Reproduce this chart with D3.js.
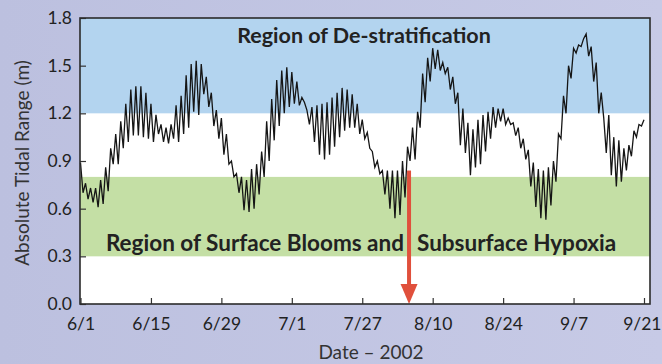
<!DOCTYPE html>
<html>
<head>
<meta charset="utf-8">
<script src="https://cdn.jsdelivr.net/npm/d3@7"></script>
<style>
  html, body { margin: 0; padding: 0; background: #c0c4e2; }
  svg { display: block; font-family: Lato, "Open Sans", sans-serif; }
</style>
</head>
<body>
<svg id="chart" width="662" height="364"></svg>
<script>
// half-day tidal range readings, 6/1 .. 9/21 2002
const startDate = new Date(2002, 5, 1);
const tidalRange = [
  0.89, 0.70, 0.76, 0.66, 0.73, 0.64, 0.73, 0.61, 0.78, 0.63,
  0.86, 0.71, 0.98, 0.88, 1.07, 0.88, 1.15, 0.98, 1.26, 1.02,
  1.35, 1.06, 1.37, 1.06, 1.37, 1.05, 1.33, 1.04, 1.26, 1.02,
  1.19, 1.07, 1.13, 1.02, 1.11, 1.01, 1.13, 1.04, 1.25, 1.02,
  1.31, 1.07, 1.44, 1.11, 1.51, 1.21, 1.53, 1.19, 1.51, 1.32,
  1.43, 1.24, 1.33, 1.12, 1.22, 1.04, 1.17, 0.94, 1.07, 0.88,
  0.90, 0.80, 0.82, 0.70, 0.80, 0.59, 0.78, 0.58, 0.85, 0.60,
  0.88, 0.69, 0.96, 0.80, 1.15, 0.90, 1.29, 1.03, 1.41, 1.12,
  1.47, 1.20, 1.49, 1.24, 1.46, 1.26, 1.40, 1.25, 1.30, 1.27,
  1.22, 1.13, 1.24, 1.02, 1.25, 0.94, 1.26, 0.91, 1.27, 0.94,
  1.30, 0.99, 1.33, 1.05, 1.36, 1.09, 1.35, 1.11, 1.32, 1.11,
  1.26, 1.07, 1.16, 1.04, 1.08, 0.98, 0.96, 0.86, 0.90, 0.82,
  0.84, 0.69, 0.84, 0.60, 0.84, 0.54, 0.84, 0.56, 0.90, 0.67,
  0.99, 0.90, 1.11, 0.91, 1.21, 1.11, 1.45, 1.27, 1.55, 1.40,
  1.61, 1.48, 1.60, 1.47, 1.52, 1.45, 1.49, 1.35, 1.43, 1.26,
  1.33, 1.00, 1.23, 0.95, 1.14, 0.81, 1.10, 0.86, 1.16, 0.88,
  1.19, 0.96, 1.21, 1.04, 1.24, 1.11, 1.23, 1.15, 1.23, 1.13,
  1.17, 1.13, 1.14, 1.06, 1.11, 0.98, 1.04, 0.91, 0.97, 0.74,
  0.89, 0.61, 0.85, 0.54, 0.84, 0.53, 0.86, 0.62, 0.90, 0.77,
  1.07, 1.04, 1.31, 1.20, 1.50, 1.42, 1.61, 1.58, 1.63, 1.62,
  1.67, 1.70, 1.56, 1.62, 1.40, 1.52, 1.20, 1.33, 1.17, 0.95,
  1.19, 0.81, 1.05, 0.74, 1.03, 0.77, 0.98, 0.84, 1.00, 0.93,
  1.09, 1.05, 1.13, 1.12, 1.16
];
const tickLabels = ["6/1", "6/15", "6/29", "7/1", "7/27", "8/10", "8/24", "9/7", "9/21"];
const yTicks = [0, 0.3, 0.6, 0.9, 1.2, 1.5, 1.8];
const destratBand = [1.2, 1.8];
const bloomBand = [0.3, 0.8];
const arrowDay = 65.3;
const arrowTop = 0.84;

const svg = d3.select("#chart");
const pLeft = 80, pRight = 650, pTop = 18, pBottom = 304;

const endDate = d3.timeDay.offset(startDate, 112);
const x = d3.scaleTime().domain([startDate, endDate]).range([80.5, 644]);
const y = d3.scaleLinear().domain([0, 1.8]).range([pBottom, pTop]);
const dateAt = i => new Date(startDate.getTime() + i * 12 * 3600 * 1000);

// background
const defs = svg.append("defs");
const grad = defs.append("linearGradient").attr("id", "bg").attr("x1", 0).attr("x2", 1);
grad.append("stop").attr("offset", "0%").attr("stop-color", "#bcc0df");
grad.append("stop").attr("offset", "100%").attr("stop-color", "#c7cae6");
svg.append("rect").attr("width", 662).attr("height", 364).attr("fill", "url(#bg)");

// plot area + bands
svg.append("rect").attr("x", pLeft).attr("y", pTop)
  .attr("width", pRight - pLeft).attr("height", pBottom - pTop).attr("fill", "#fff");
svg.append("rect").attr("x", pLeft).attr("y", y(destratBand[1]))
  .attr("width", pRight - pLeft).attr("height", y(destratBand[0]) - y(destratBand[1]))
  .attr("fill", "#b3d4ef");
svg.append("rect").attr("x", pLeft).attr("y", y(bloomBand[1]))
  .attr("width", pRight - pLeft).attr("height", y(bloomBand[0]) - y(bloomBand[1]))
  .attr("fill", "#c4dfa5");

// region labels
svg.append("text").attr("x", 364).attr("y", 42.5)
  .attr("text-anchor", "middle").attr("font-size", 21.5).attr("font-weight", "bold")
  .attr("fill", "#222").text("Region of De-stratification");
svg.append("text").attr("x", 404).attr("y", 251)
  .attr("text-anchor", "end").attr("font-size", 22.5).attr("font-weight", "bold")
  .attr("fill", "#222").text("Region of Surface Blooms and");
svg.append("text").attr("x", 417).attr("y", 251)
  .attr("text-anchor", "start").attr("font-size", 22.5).attr("font-weight", "bold")
  .attr("fill", "#222").text("Subsurface Hypoxia");

// tidal range line
const line = d3.line().x((d, i) => x(dateAt(i))).y(d => y(d));
svg.append("path").datum(tidalRange)
  .attr("d", line).attr("fill", "none")
  .attr("stroke", "#151515").attr("stroke-width", 1.3).attr("stroke-linejoin", "miter");

// red arrow
const ax = x(new Date(startDate.getTime() + arrowDay * 24 * 3600 * 1000));
svg.append("line").attr("x1", ax).attr("x2", ax)
  .attr("y1", y(arrowTop)).attr("y2", pBottom - 18)
  .attr("stroke", "#e0503c").attr("stroke-width", 4);
svg.append("path")
  .attr("d", `M${ax - 8.5},${pBottom - 20} L${ax + 8.5},${pBottom - 20} L${ax},${pBottom} Z`)
  .attr("fill", "#e0503c");

// axes
const xAxis = d3.axisBottom(x)
  .tickValues(tickLabels.map((t, i) => d3.timeDay.offset(startDate, i * 14)))
  .tickFormat((d, i) => tickLabels[i])
  .tickSizeInner(-6).tickSizeOuter(0).tickPadding(14);
const gx = svg.append("g").attr("transform", `translate(0,${pBottom})`).call(xAxis);
gx.select(".domain").remove();
gx.selectAll("line").attr("stroke", "#333").attr("stroke-width", 1.2);
gx.selectAll("text").attr("font-size", 17.5).attr("fill", "#222").attr("font-family", "Lato, sans-serif");
// keep the last label inside the window
gx.selectAll(".tick:last-of-type text").attr("text-anchor", "end").attr("dx", 17);

const yAxis = d3.axisLeft(y).tickValues(yTicks).tickFormat(d3.format(".1f"))
  .tickSizeInner(-6).tickSizeOuter(0).tickPadding(8);
const gy = svg.append("g").attr("transform", `translate(${pLeft},0)`).call(yAxis);
gy.select(".domain").remove();
gy.selectAll("line").attr("stroke", "#333").attr("stroke-width", 1.2);
gy.selectAll("text").attr("font-size", 17.5).attr("fill", "#222").attr("font-family", "Lato, sans-serif");

// frame
svg.append("rect").attr("x", pLeft).attr("y", pTop)
  .attr("width", pRight - pLeft).attr("height", pBottom - pTop)
  .attr("fill", "none").attr("stroke", "#2b2b2b").attr("stroke-width", 1.6);

// axis titles
svg.append("text").attr("transform", "translate(29,163) rotate(-90)")
  .attr("text-anchor", "middle").attr("font-size", 19).attr("fill", "#333")
  .text("Absolute Tidal Range (m)");
svg.append("text").attr("x", 371).attr("y", 358.5)
  .attr("text-anchor", "middle").attr("font-size", 19).attr("fill", "#333")
  .text("Date \u2013 2002");
</script>
</body>
</html>
